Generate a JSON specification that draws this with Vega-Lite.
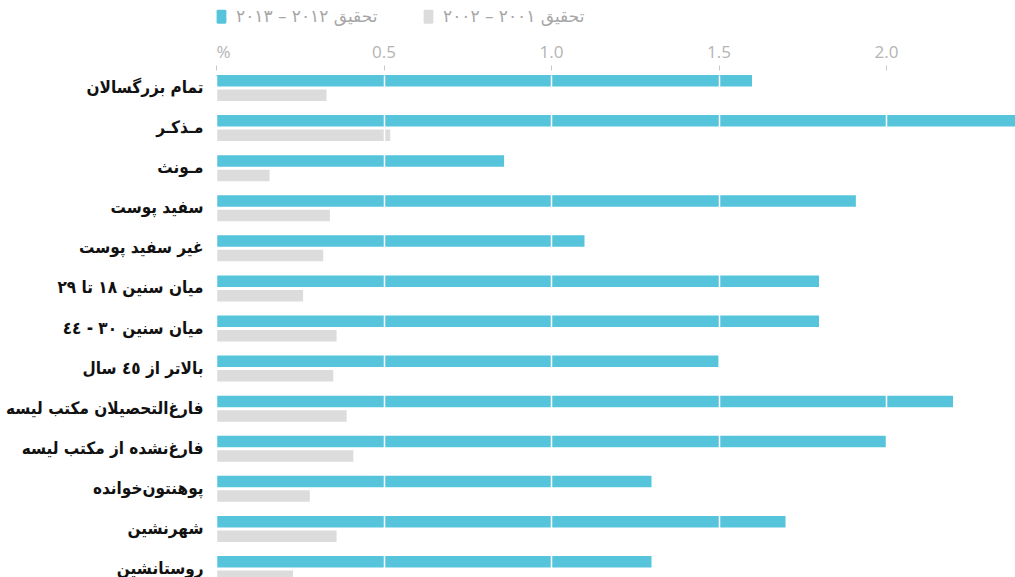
{
  "$schema": "https://vega.github.io/schema/vega-lite/v6.json",
  "width": 799,
  "height": 507,
  "autosize": {"type": "none"},
  "padding": {"left": 216, "top": 70, "right": 0, "bottom": 0},
  "background": "white",
  "data": {
    "values": [
      {"group": "تمام بزرگسالان", "series": "تحقیق ٢٠١٢ – ٢٠١٣", "value": 1.6},
      {"group": "تمام بزرگسالان", "series": "تحقیق ٢٠٠١ – ٢٠٠٢", "value": 0.33},
      {"group": "مـذکـر", "series": "تحقیق ٢٠١٢ – ٢٠١٣", "value": 2.4},
      {"group": "مـذکـر", "series": "تحقیق ٢٠٠١ – ٢٠٠٢", "value": 0.52},
      {"group": "مـونث", "series": "تحقیق ٢٠١٢ – ٢٠١٣", "value": 0.86},
      {"group": "مـونث", "series": "تحقیق ٢٠٠١ – ٢٠٠٢", "value": 0.16},
      {"group": "سفید پوست", "series": "تحقیق ٢٠١٢ – ٢٠١٣", "value": 1.91},
      {"group": "سفید پوست", "series": "تحقیق ٢٠٠١ – ٢٠٠٢", "value": 0.34},
      {"group": "غیر سفید پوست", "series": "تحقیق ٢٠١٢ – ٢٠١٣", "value": 1.1},
      {"group": "غیر سفید پوست", "series": "تحقیق ٢٠٠١ – ٢٠٠٢", "value": 0.32},
      {"group": "میان سنین ١٨ تا ٢٩", "series": "تحقیق ٢٠١٢ – ٢٠١٣", "value": 1.8},
      {"group": "میان سنین ١٨ تا ٢٩", "series": "تحقیق ٢٠٠١ – ٢٠٠٢", "value": 0.26},
      {"group": "میان سنین ٣٠ - ٤٤", "series": "تحقیق ٢٠١٢ – ٢٠١٣", "value": 1.8},
      {"group": "میان سنین ٣٠ - ٤٤", "series": "تحقیق ٢٠٠١ – ٢٠٠٢", "value": 0.36},
      {"group": "بالاتر از ٤٥ سال", "series": "تحقیق ٢٠١٢ – ٢٠١٣", "value": 1.5},
      {"group": "بالاتر از ٤٥ سال", "series": "تحقیق ٢٠٠١ – ٢٠٠٢", "value": 0.35},
      {"group": "فارغ‌التحصیلان مکتب لیسه", "series": "تحقیق ٢٠١٢ – ٢٠١٣", "value": 2.2},
      {"group": "فارغ‌التحصیلان مکتب لیسه", "series": "تحقیق ٢٠٠١ – ٢٠٠٢", "value": 0.39},
      {"group": "فارغ‌نشده از مکتب لیسه", "series": "تحقیق ٢٠١٢ – ٢٠١٣", "value": 2.0},
      {"group": "فارغ‌نشده از مکتب لیسه", "series": "تحقیق ٢٠٠١ – ٢٠٠٢", "value": 0.41},
      {"group": "پوهنتون‌خوانده", "series": "تحقیق ٢٠١٢ – ٢٠١٣", "value": 1.3},
      {"group": "پوهنتون‌خوانده", "series": "تحقیق ٢٠٠١ – ٢٠٠٢", "value": 0.28},
      {"group": "شهرنشین", "series": "تحقیق ٢٠١٢ – ٢٠١٣", "value": 1.7},
      {"group": "شهرنشین", "series": "تحقیق ٢٠٠١ – ٢٠٠٢", "value": 0.36},
      {"group": "روستانشین", "series": "تحقیق ٢٠١٢ – ٢٠١٣", "value": 1.3},
      {"group": "روستانشین", "series": "تحقیق ٢٠٠١ – ٢٠٠٢", "value": 0.23}
    ]
  },
  "mark": {"type": "bar", "clip": true},
  "encoding": {
    "y": {
      "field": "group",
      "type": "nominal",
      "sort": null,
      "scale": {"range": [5, 512], "paddingInner": 0.351, "paddingOuter": 0},
      "axis": {
        "title": null,
        "ticks": false,
        "domain": false,
        "labelFont": "DejaVu Sans Condensed, DejaVu Sans",
        "labelFontWeight": "bold",
        "labelFontSize": 17,
        "labelColor": "#111111",
        "labelPadding": 13,
        "labelLimit": 400,
        "labelBaseline": "middle"
      }
    },
    "yOffset": {
      "field": "series",
      "type": "nominal",
      "sort": ["تحقیق ٢٠١٢ – ٢٠١٣", "تحقیق ٢٠٠١ – ٢٠٠٢"],
      "scale": {"paddingInner": 0.207, "paddingOuter": 0}
    },
    "x": {
      "field": "value",
      "type": "quantitative",
      "scale": {"domain": [0, 2.385], "nice": false},
      "axis": {
        "orient": "top",
        "title": null,
        "values": [0, 0.5, 1, 1.5, 2],
        "labelExpr": "datum.value == 0 ? '%' : format(datum.value, '.1f')",
        "domain": false,
        "ticks": true,
        "tickSize": 5,
        "tickColor": "#c8c8c8",
        "labelColor": "#b4b4b4",
        "labelFont": "Open Sans",
        "labelFontSize": 17,
        "labelPadding": 4,
        "grid": true,
        "gridColor": "#ffffff",
        "gridWidth": 1.5,
        "zindex": 1
      }
    },
    "color": {
      "field": "series",
      "type": "nominal",
      "sort": ["تحقیق ٢٠١٢ – ٢٠١٣", "تحقیق ٢٠٠١ – ٢٠٠٢"],
      "scale": {
        "domain": ["تحقیق ٢٠١٢ – ٢٠١٣", "تحقیق ٢٠٠١ – ٢٠٠٢"],
        "range": ["#56c5dc", "#dcdcdc"]
      },
      "legend": {
        "orient": "none",
        "legendX": -3,
        "legendY": -62,
        "direction": "horizontal",
        "title": null,
        "symbolType": "M-0.7,-0.8Q-0.7,-1,-0.5,-1H0.5Q0.7,-1,0.7,-0.8V0.8Q0.7,1,0.5,1H-0.5Q-0.7,1,-0.7,0.8Z",
        "symbolSize": 196,
        "symbolStrokeWidth": 0,
        "symbolOpacity": 1,
        "labelFont": "DejaVu Sans",
        "labelFontSize": 17,
        "labelColor": "#a6a6a6",
        "labelOffset": 6,
        "columnPadding": 42,
        "labelLimit": 300
      }
    }
  },
  "config": {"view": {"stroke": null}}
}
